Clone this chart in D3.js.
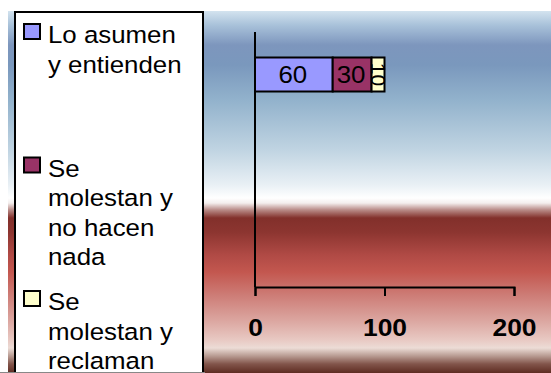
<!DOCTYPE html>
<html>
<head>
<meta charset="utf-8">
<script src="https://cdn.jsdelivr.net/npm/d3@7"></script>
<style>
  html, body { margin: 0; padding: 0; background: #fff; }
  svg { display: block; }
  text { font-family: "Liberation Sans", Arial, sans-serif; }
</style>
</head>
<body>
<svg id="chart" width="551" height="373"></svg>
<script>
// Series (one stacked bar, three answers)
const seriesKeys = ["asumen", "noHacen", "reclaman"];
const seriesNames = ["Lo asumen y entienden", "Se molestan y no hacen nada", "Se molestan y reclaman"];
const legendLines = [["Lo asumen", "y entienden"], ["Se", "molestan y", "no hacen", "nada"], ["Se", "molestan y", "reclaman"]];
const seriesColors = ["#9999ff", "#993366", "#ffffcc"];
const asumenValues = [60];
const noHacenValues = [30];
const reclamanValues = [10];
// Category slots on the vertical axis (only the first one holds data)
const categorySlots = [0, 1, 2];
const tickValues = [0, 100, 200];

const rows = asumenValues.map((v, i) => ({
  slot: categorySlots[i],
  asumen: v,
  noHacen: noHacenValues[i],
  reclaman: reclamanValues[i]
}));

const svg = d3.select("#chart");
const W = 551, H = 373;
const SX = 1.1; // horizontal text stretch

// Background gradient
const defs = svg.append("defs");
const grad = defs.append("linearGradient")
  .attr("id", "bg").attr("gradientUnits", "userSpaceOnUse")
  .attr("x1", 0).attr("x2", 0).attr("y1", 11).attr("y2", H);
const stops = [
  [11, "#d3e3ef"], [25, "#a9c2da"], [45, "#7d96bd"], [65, "#7a98bd"],
  [100, "#92b2cc"], [150, "#c0d4e2"], [185, "#e9f0f5"], [198, "#ffffff"],
  [203, "#f4efee"], [210, "#b88a86"], [218, "#82302b"], [232, "#8c3530"],
  [255, "#b04a45"], [272, "#c3574f"], [295, "#cd7c76"], [320, "#dba59f"],
  [340, "#e8c9c3"], [348, "#ecdcd6"], [356, "#b89b92"], [364, "#82554b"],
  [373, "#5e2c22"]
];
stops.forEach(([y, c]) => grad.append("stop")
  .attr("offset", ((y - 11) / (H - 11)).toFixed(4)).attr("stop-color", c));

svg.append("rect").attr("x", 8).attr("y", 11).attr("width", W - 8).attr("height", H - 11)
  .attr("fill", "url(#bg)");

// Scales
const x = d3.scaleLinear().domain([0, 200]).range([255, 514]);
const y = d3.scaleBand().domain(categorySlots).range([32, 287])
  .paddingInner(0.6).paddingOuter(0.3);

// Stacked bars
const stacked = d3.stack().keys(seriesKeys)(rows);
const layers = svg.append("g").selectAll("g").data(stacked).join("g")
  .attr("fill", (d, i) => seriesColors[i]);
layers.selectAll("rect").data(d => d).join("rect")
  .attr("x", d => x(d[0]))
  .attr("y", d => y(d.data.slot))
  .attr("width", d => x(d[1]) - x(d[0]))
  .attr("height", y.bandwidth())
  .attr("stroke", "#000").attr("stroke-width", 2);

// Value labels
stacked.forEach((layer, li) => {
  layer.forEach(d => {
    const v = d[1] - d[0];
    const cx = (x(d[0]) + x(d[1])) / 2;
    const cy = y(d.data.slot) + y.bandwidth() / 2;
    const narrow = x(d[1]) - x(d[0]) < 20;
    svg.append("text")
      .attr("transform", narrow
        ? `translate(${cx},${cy}) rotate(90)`
        : `translate(${cx - 1},${cy + 8}) scale(${SX},1)`)
      .attr("dy", narrow ? "0.35em" : null)
      .attr("text-anchor", "middle")
      .attr("font-size", narrow ? 21 : 23.5)
      .attr("fill", "#000")
      .text(v);
  });
});

// Vertical axis line
svg.append("line")
  .attr("x1", x(0)).attr("x2", x(0)).attr("y1", 32).attr("y2", 287)
  .attr("stroke", "#000").attr("stroke-width", 2);

// Horizontal axis
const xAxis = svg.append("g")
  .attr("transform", "translate(0,287)")
  .call(d3.axisBottom(x).tickValues(tickValues).tickSize(9).tickSizeOuter(9).tickPadding(30));
xAxis.select(".domain").attr("stroke", "#000").attr("stroke-width", 2);
xAxis.selectAll(".tick line").attr("stroke", "#000").attr("stroke-width", 2);
xAxis.selectAll(".tick text")
  .attr("font-family", "Liberation Sans, Arial, sans-serif")
  .attr("font-size", 24).attr("font-weight", "bold").attr("fill", "#000")
  .attr("dy", null).attr("y", 49)
  .attr("transform", `scale(${SX},1)`);

// Legend
const legend = svg.append("g");
legend.append("rect")
  .attr("x", 15).attr("y", 12).attr("width", 188).attr("height", 372)
  .attr("fill", "#fff").attr("stroke", "#000").attr("stroke-width", 2);

seriesNames.forEach((name, i) => {
  const top = 24 + i * 133.5;
  const item = legend.append("g").attr("aria-label", name);
  item.append("rect")
    .attr("x", 24).attr("y", top).attr("width", 16).attr("height", 15)
    .attr("fill", seriesColors[i]).attr("stroke", "#000").attr("stroke-width", 2);
  legendLines[i].forEach((line, j) => {
    item.append("text")
      .attr("transform", `translate(48,${top + 19 + j * 29.5}) scale(${SX},1)`)
      .attr("font-size", 23.5).attr("fill", "#000")
      .text(line);
  });
});

// Bottom edge line under the legend
svg.append("line").attr("x1", 0).attr("x2", 205).attr("y1", 372.5).attr("y2", 372.5)
  .attr("stroke", "#888").attr("stroke-width", 1);
</script>
</body>
</html>
